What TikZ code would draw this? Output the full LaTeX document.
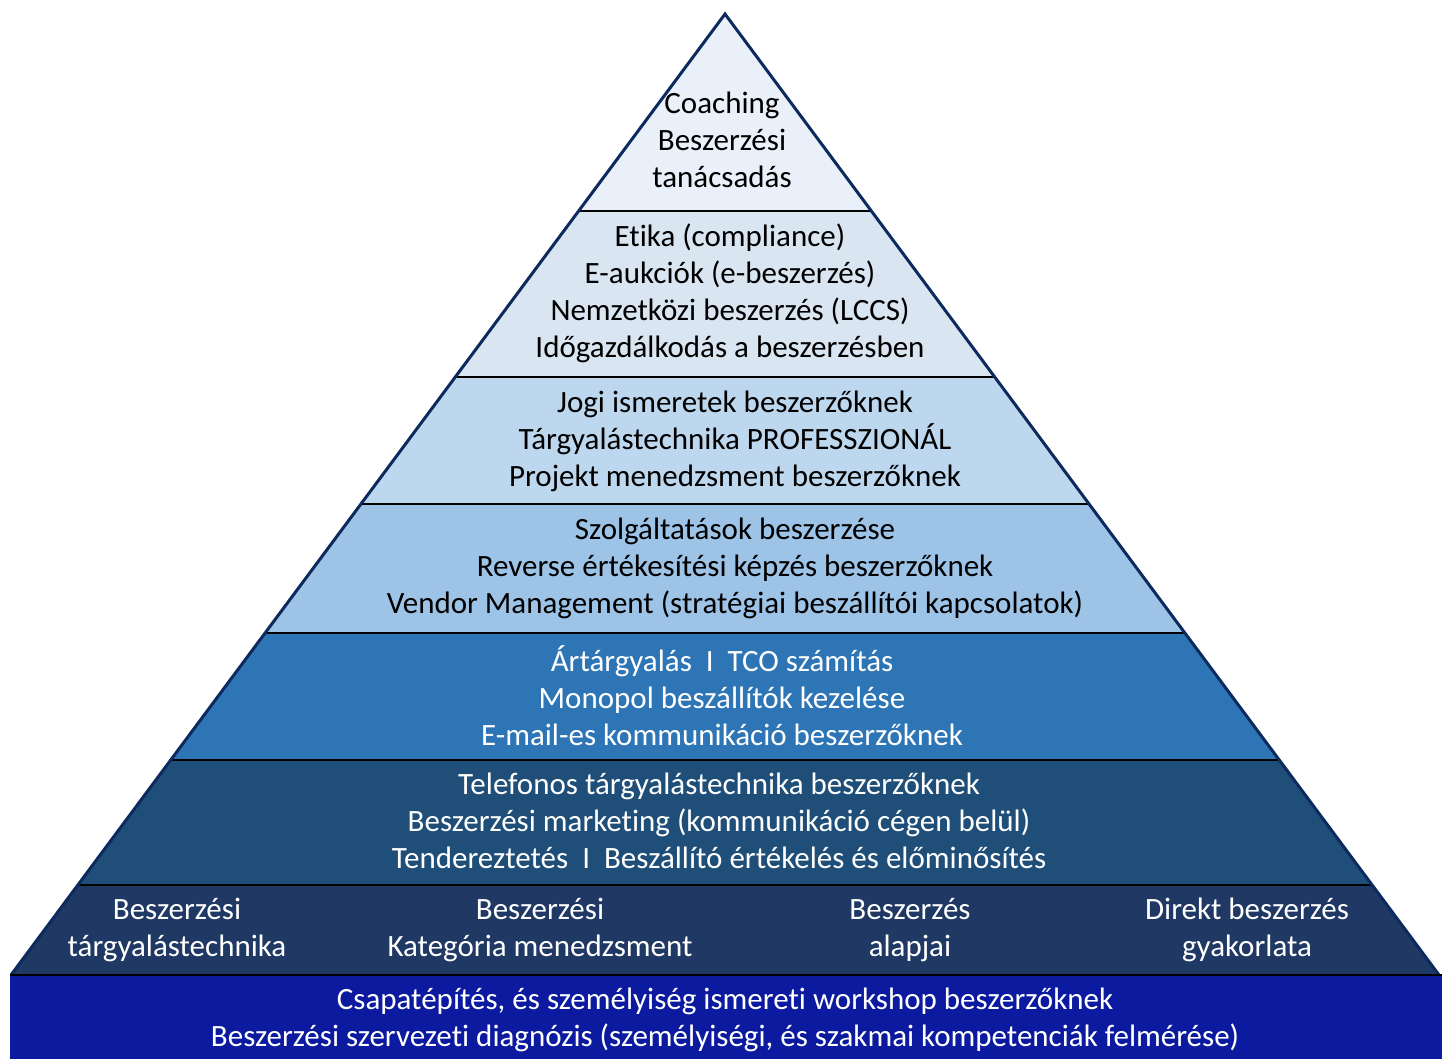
\documentclass[tikz,border=0pt]{standalone}
\usepackage{fontspec}
\setmainfont{Carlito}[RawFeature={-liga}]
\usepackage{tikz}
\usetikzlibrary{positioning}

\definecolor{lvla}{HTML}{E9F0F9}
\definecolor{lvlb}{HTML}{DAE5F2}
\definecolor{lvlc}{HTML}{BDD7EE}
\definecolor{lvld}{HTML}{9DC3E6}
\definecolor{lvle}{HTML}{2E75B6}
\definecolor{lvlf}{HTML}{1F4E79}
\definecolor{lvlg}{HTML}{203864}
\definecolor{basecol}{HTML}{0C1AA0}
\definecolor{edgecol}{HTML}{0D2A5E}

\tikzset{
	lvltext/.style={align=center, font=\fontsize{15.5}{18.5}\selectfont, inner sep=0pt},
	darktext/.style={lvltext, text=black},
	lighttext/.style={lvltext, text=white},
	sepline/.style={black, line width=1.4pt}
}

\begin{document}
\begin{tikzpicture}[x=0.5pt, y=-0.5pt]
	\useasboundingbox (0,0) rectangle (1448,1059);
	\coordinate (apex) at (725,14);
	\coordinate (bl) at (11,975);
	\coordinate (br) at (1439,975);
	% layers, clipped to the triangle
	\begin{scope}
		\clip (apex) -- (bl) -- (br) -- cycle;
		\foreach \ya/\yb/\col in {0/211/lvla, 211/377/lvlb, 377/504/lvlc, 504/633/lvld,
				633/760/lvle, 760/885/lvlf, 885/975/lvlg}
			\fill[\col] (0,\ya) rectangle (1448,\yb);
		\foreach \y in {211, 377, 504, 633, 760, 885}
			\draw[sepline] (0,\y) -- (1448,\y);
	\end{scope}
	\draw[edgecol, line width=1.5pt, line join=miter] (bl) -- (apex) -- (br);
	% base band
	\fill[basecol] (10,975) rectangle (1442,1059);
	\draw[sepline] (10,975) -- (1442,975);

	\node[darktext] (coach) at (722,140) {Coaching\\Beszerzési\\tanácsadás};
	\node[darktext] (etika) at (730,293) {Etika (compliance)\\E-aukciók (e-beszerzés)\\Nemzetközi beszerzés (LCCS)\\Időgazdálkodás a beszerzésben};
	\node[darktext] (jogi) at (735,441) {Jogi ismeretek beszerzőknek\\Tárgyalástechnika PROFESSZIONÁL\\Projekt menedzsment beszerzőknek};
	\node[darktext] (szolg) at (735,568) {Szolgáltatások beszerzése\\Reverse értékesítési képzés beszerzőknek\\Vendor Management (stratégiai beszállítói kapcsolatok)};
	\node[lighttext] (ar) at (722,696) {Ártárgyalás \ I \ TCO számítás\\Monopol beszállítók kezelése\\E-mail-es kommunikáció beszerzőknek};
	\node[lighttext] (tel) at (719,821) {Telefonos tárgyalástechnika beszerzőknek\\Beszerzési marketing (kommunikáció cégen belül)\\Tendereztetés \ I \ Beszállító értékelés és előminősítés};
	\node[lighttext] (targy) at (177,930) {Beszerzési\\tárgyalástechnika};
	\node[lighttext] (kat) at (540,930) {Beszerzési\\Kategória menedzsment};
	\node[lighttext] (alap) at (910,930) {Beszerzés\\alapjai};
	\node[lighttext] (direkt) at (1247,930) {Direkt beszerzés\\gyakorlata};
	\node[lighttext] (csapat) at (725,1020) {Csapatépítés, és személyiség ismereti workshop beszerzőknek\\Beszerzési szervezeti diagnózis (személyiségi, és szakmai kompetenciák felmérése)};
\end{tikzpicture}
\end{document}
